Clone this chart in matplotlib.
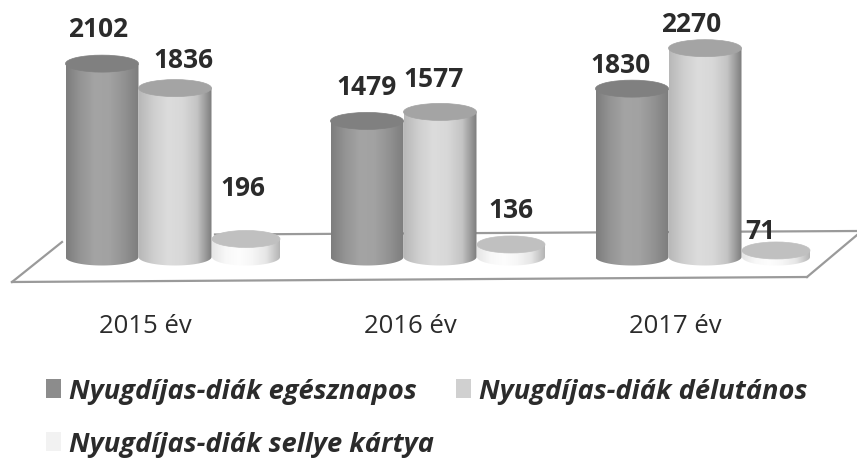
import numpy as np
import matplotlib
matplotlib.use("Agg")
import matplotlib.pyplot as plt
from matplotlib.colors import LinearSegmentedColormap
from matplotlib.patches import Ellipse, Patch, PathPatch
from matplotlib.path import Path

W, H = 857, 460
categories = ["2015 év", "2016 év", "2017 év"]
series_names = ["Nyugdíjas-diák egésznapos", "Nyugdíjas-diák délutános", "Nyugdíjas-diák sellye kártya"]
egesznapos = [2102, 1479, 1830]
delutanos = [1836, 1577, 2270]
sellye = [196, 136, 71]
series_values = [egesznapos, delutanos, sellye]

# styling
PX_PER_CAT = 265
X0_PX = 145
PX_PER_UNIT = 0.092
BASE_PX = 258
AX_BOTTOM_PX = 300
offsets_px = [-43, 30, 101]
widths_px = [73, 73, 68]
RY_PX = 8.5
side_cmaps = [
    ["#7d7d7d", "#959595", "#a4a4a4", "#a2a2a2", "#929292", "#7d7d7d"],
    ["#b8b8b8", "#cfcfcf", "#dcdcdc", "#d8d8d8", "#c4c4c4", "#7d7d7d"],
    ["#e6e6e6", "#f8f8f8", "#fdfdfd", "#f6f6f6", "#e6e6e6", "#b5b5b5"],
]
top_colors = ["#808080", "#a4a4a4", "#c0c0c0"]
legend_colors = ["#8c8c8c", "#d0d0d0", "#f2f2f2"]
label_offsets = [
    [(-4, 35), (0, 34), (-11, 24)],
    [(8, 29), (-6, 33), (-14, 25)],
    [(-3, 51), (0, 35), (-16, 20)],
]
TEXT = "#2b2b2b"

fig = plt.figure(figsize=(W / 100, H / 100), dpi=100, facecolor="white")
ax = fig.add_axes([0, (H - AX_BOTTOM_PX) / H, 1, AX_BOTTOM_PX / H])
ax.set_xlim(-X0_PX / PX_PER_CAT, (W - X0_PX) / PX_PER_CAT)
ax.set_ylim(-(AX_BOTTOM_PX - BASE_PX) / PX_PER_UNIT, BASE_PX / PX_PER_UNIT)
for s in ax.spines.values():
    s.set_visible(False)
ax.patch.set_visible(False)


def pxpt(x, y):
    """Pixel position in the picture -> axes fraction (floor decoration only)."""
    return x / W, (AX_BOTTOM_PX - y) / AX_BOTTOM_PX


# floor
floor = [(12, 283), (62, 243)], [(215, 235.5), (857, 232)], [(12, 283), (807, 278)], [(807, 278), (857, 236)]
for seg in floor:
    pts = [pxpt(*p) for p in seg]
    ax.plot([p[0] for p in pts], [p[1] for p in pts], transform=ax.transAxes,
            color="#9a9a9a", lw=1.6, clip_on=False, zorder=1)

ry = RY_PX / PX_PER_UNIT
for j, vals in enumerate(series_values):
    w = widths_px[j] / PX_PER_CAT
    cmap = LinearSegmentedColormap.from_list(f"c{j}", side_cmaps[j])
    for i, v in enumerate(vals):
        xc = i + offsets_px[j] / PX_PER_CAT
        z = 3 + j + i * 0.1
        t = np.linspace(np.pi, 2 * np.pi, 60)
        xs = np.r_[xc - w / 2, xc + w / 2 * np.cos(t), xc + w / 2, xc - w / 2]
        ys = np.r_[v, ry * np.sin(t), v, v]
        clip = PathPatch(Path(np.c_[xs, ys]), transform=ax.transData, fc="none", ec="none")
        ax.add_patch(clip)
        im = ax.imshow(np.linspace(0, 1, 128)[None, :], cmap=cmap, aspect="auto",
                       extent=(xc - w / 2, xc + w / 2, -ry, v), zorder=z)
        im.set_clip_path(clip)
        ax.add_patch(Ellipse((xc, v), w, 2 * ry, fc=top_colors[j], ec=top_colors[j], lw=0.5, zorder=z + 0.01))
        dx, dy = label_offsets[j][i]
        ax.annotate(str(v), xy=(xc, v), xytext=(dx, dy), textcoords="offset pixels",
                    ha="center", va="center", fontsize=19, fontweight="bold", family="Open Sans",
                    color=TEXT, zorder=10, annotation_clip=False)

ax.set_xlim(-X0_PX / PX_PER_CAT, (W - X0_PX) / PX_PER_CAT)
ax.set_ylim(-(AX_BOTTOM_PX - BASE_PX) / PX_PER_UNIT, BASE_PX / PX_PER_UNIT)
ax.set_xticks(range(len(categories)), categories)
ax.set_yticks([])
ax.tick_params(axis="x", length=0, pad=10, labelsize=18.5, labelcolor=TEXT)
for lb in ax.get_xticklabels():
    lb.set_family("Open Sans")

# matplotlib fills legend columns top-down: the first column holds two entries
legend_order = [0, 2, 1]
handles = [Patch(fc=legend_colors[k], ec="none") for k in legend_order]
labels = [series_names[k] for k in legend_order]
leg = fig.legend(handles, labels, ncols=2, loc="upper left", bbox_to_anchor=(46 / W, 1 - 379 / H),
                 frameon=False, handlelength=0.55, handleheight=0.7, handletextpad=0.3,
                 columnspacing=0.8, labelspacing=1.0, borderpad=0, borderaxespad=0,
                 prop={"family": "Open Sans", "weight": "bold", "style": "italic", "size": 19.6})
for t in leg.get_texts():
    t.set_color(TEXT)

fig.savefig("out.png", dpi=100, facecolor="white")
